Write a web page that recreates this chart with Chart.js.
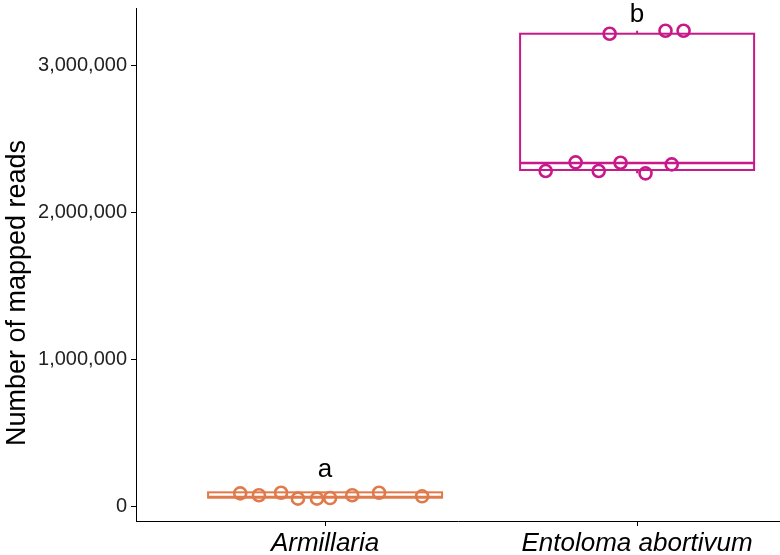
<!DOCTYPE html>
<html>
<head>
<meta charset="utf-8">
<script src="https://cdn.jsdelivr.net/npm/chart.js@4"></script>
<style>
  body { margin: 0; background: #fff; }
</style>
</head>
<body>
<canvas id="chart" width="780" height="555"></canvas>
<script>
// categories and colours
const categories = ["Armillaria", "Entoloma abortivum"];
const colors = ["#E07A4B", "#C7198A"];

// jittered points (x offset from the category centre, mapped reads)
const armXOffset = [-0.272, -0.212, -0.141, -0.087, -0.026, 0.016, 0.087, 0.173, 0.311];
const armReads = [86000, 73000, 90000, 50000, 50000, 54000, 73000, 90000, 66000];
const entXOffset = [-0.293, -0.197, -0.123, -0.053, 0.027, 0.111, -0.088, 0.091, 0.149];
const entReads = [2279000, 2338000, 2279000, 2335000, 2263000, 2324000, 3213000, 3233000, 3233000];

// box stats per category
const boxMin = [50000, 2263000];
const boxQ1 = [57000, 2286000];
const boxMedian = [62000, 2333000];
const boxQ3 = [93000, 3213000];
const boxMax = [93000, 3233000];

// significance letters
const letters = ["a", "b"];
const letterY = [245000, 3340000];

const yTicks = [0, 1000000, 2000000, 3000000];
const yTitle = "Number of mapped reads";

const FONT = "'Liberation Sans', Arial, sans-serif";

function toPoints(center, offsets, values) {
    return values.map((v, i) => ({ x: center + offsets[i], y: v }));
}

const boxPlugin = {
    id: "boxes",
    beforeDatasetsDraw(chart) {
        const ctx = chart.ctx;
        const xs = chart.scales.x;
        const ys = chart.scales.y;
        ctx.save();
        for (let i = 0; i < categories.length; i++) {
            const c = i + 1;
            const x0 = xs.getPixelForValue(c - 0.375);
            const x1 = xs.getPixelForValue(c + 0.375);
            const xm = xs.getPixelForValue(c);
            const q1 = ys.getPixelForValue(boxQ1[i]);
            const q3 = ys.getPixelForValue(boxQ3[i]);
            const med = ys.getPixelForValue(boxMedian[i]);
            ctx.strokeStyle = colors[i];
            ctx.lineWidth = 2;
            ctx.beginPath();
            ctx.moveTo(xm, q3);
            ctx.lineTo(xm, ys.getPixelForValue(boxMax[i]));
            ctx.moveTo(xm, q1);
            ctx.lineTo(xm, ys.getPixelForValue(boxMin[i]));
            ctx.stroke();
            ctx.strokeRect(x0, q3, x1 - x0, q1 - q3);
            ctx.lineWidth = 2.5;
            ctx.beginPath();
            ctx.moveTo(x0, med);
            ctx.lineTo(x1, med);
            ctx.stroke();
        }
        ctx.restore();
    },
    afterDatasetsDraw(chart) {
        const ctx = chart.ctx;
        const xs = chart.scales.x;
        const ys = chart.scales.y;
        ctx.save();
        ctx.fillStyle = "#000";
        ctx.font = "26px " + FONT;
        ctx.textAlign = "center";
        ctx.textBaseline = "middle";
        letters.forEach((l, i) => {
            ctx.fillText(l, xs.getPixelForValue(i + 1), ys.getPixelForValue(letterY[i]));
        });
        // y axis title, rotated
        ctx.translate(18, 293);
        ctx.rotate(-Math.PI / 2);
        ctx.font = "27px " + FONT;
        ctx.fillText(yTitle, 0, 0);
        ctx.restore();
    }
};

const pointStyle = (i) => ({
    type: "scatter",
    pointStyle: "circle",
    pointRadius: 6,
    pointBorderWidth: 2.6,
    borderColor: colors[i],
    backgroundColor: "rgba(0,0,0,0)",
    pointHoverRadius: 6
});

new Chart(document.getElementById("chart"), {
    type: "scatter",
    data: {
        datasets: [
            Object.assign({ label: categories[0], data: toPoints(1, armXOffset, armReads) }, pointStyle(0)),
            Object.assign({ label: categories[1], data: toPoints(2, entXOffset, entReads) }, pointStyle(1))
        ]
    },
    options: {
        responsive: false,
        animation: false,
        layout: { autoPadding: false, padding: { top: 8, right: 0, left: 0, bottom: 0 } },
        plugins: {
            legend: { display: false },
            tooltip: { enabled: false }
        },
        scales: {
            x: {
                type: "linear",
                min: 0.394,
                max: 2.458,
                afterFit(scale) {
                    scale.height = 34;
                    scale.paddingLeft = 0;
                    scale.paddingRight = 0;
                },
                afterBuildTicks(scale) { scale.ticks = [{ value: 1 }, { value: 2 }]; },
                grid: { display: true, drawOnChartArea: false, drawTicks: true, tickLength: 5, color: "#000" },
                border: { display: true, color: "#000", width: 1 },
                ticks: {
                    padding: 2,
                    color: "#000",
                    font: { family: FONT, size: 26, style: "italic" },
                    callback: (v) => categories[v - 1] || ""
                }
            },
            y: {
                type: "linear",
                min: -102000,
                max: 3388000,
                afterFit(scale) {
                    scale.width = 136;
                    scale.paddingTop = 0;
                    scale.paddingBottom = 0;
                },
                afterBuildTicks(scale) { scale.ticks = yTicks.map(v => ({ value: v })); },
                grid: { display: true, drawOnChartArea: false, drawTicks: true, tickLength: 5, color: "#000" },
                border: { display: true, color: "#000", width: 1 },
                ticks: {
                    padding: 4,
                    color: "#222",
                    font: { family: FONT, size: 20 },
                    callback: (v) => v.toLocaleString("en-US")
                }
            }
        }
    },
    plugins: [boxPlugin]
});
</script>
</body>
</html>
